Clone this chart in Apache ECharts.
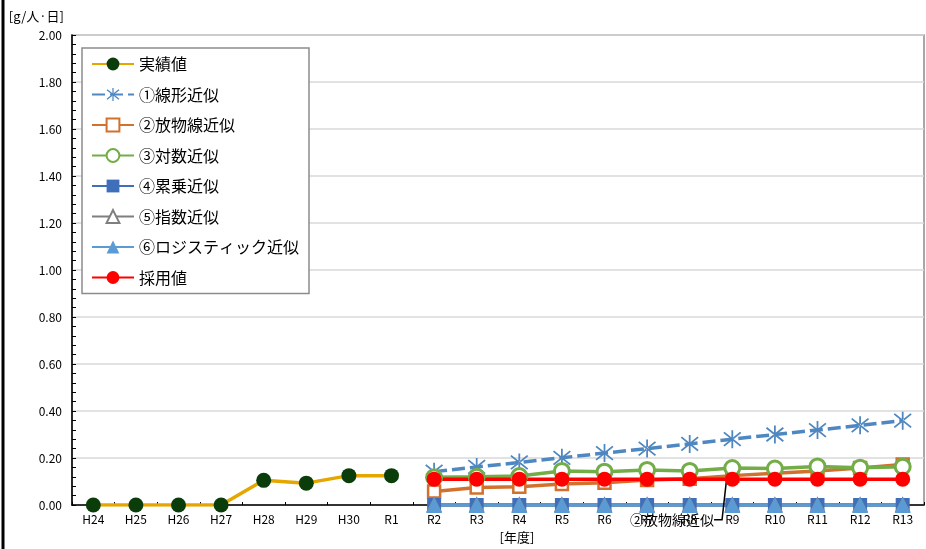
<!DOCTYPE html>
<html>
<head>
<meta charset="utf-8">
<style>
  html, body { margin: 0; padding: 0; background: #fff; }
  #main { width: 926px; height: 549px; }
</style>
<script src="https://cdn.jsdelivr.net/npm/echarts@6/dist/echarts.min.js"></script>
</head>
<body>
<div id="main"></div>
<script>
// 年度
var years = ['H24','H25','H26','H27','H28','H29','H30','R1',
             'R2','R3','R4','R5','R6','R7','R8','R9','R10','R11','R12','R13'];
var yTicks = [0, 0.2, 0.4, 0.6, 0.8, 1.0, 1.2, 1.4, 1.6, 1.8, 2.0];

// 実績値 (H24-R1)
var actual = [0, 0, 0, 0, 0.105, 0.093, 0.125, 0.125];
// 推計値 (R2-R13)
var linear    = [0.142, 0.162, 0.181, 0.201, 0.221, 0.240, 0.260, 0.280, 0.300, 0.319, 0.339, 0.359];
var parabola  = [0.057, 0.074, 0.078, 0.089, 0.095, 0.106, 0.112, 0.125, 0.135, 0.145, 0.157, 0.172];
var logFit    = [0.118, 0.120, 0.123, 0.145, 0.142, 0.149, 0.145, 0.157, 0.155, 0.164, 0.159, 0.163];
var powerFit  = [0, 0, 0, 0, 0, 0, 0, 0, 0, 0, 0, 0];
var expFit    = [0, 0, 0, 0, 0, 0, 0, 0, 0, 0, 0, 0];
var logistic  = [0, 0, 0, 0, 0, 0, 0, 0, 0, 0, 0, 0];
var adopted   = [0.11, 0.11, 0.11, 0.11, 0.11, 0.11, 0.11, 0.11, 0.11, 0.11, 0.11, 0.11];

var labelIndex = 15; // R9 に「②放物線近似」のラベル

var FONT = 'Noto Sans CJK JP';

// 実績は前半、推計は後半に並べる
function head(arr) {
    var out = arr.slice();
    while (out.length < years.length) out.push(null);
    return out;
}
function tail(arr) {
    var out = [];
    while (out.length + arr.length < years.length) out.push(null);
    return out.concat(arr);
}

// アスタリスク形のマーカー
var starPath = 'path://M9.1 0L10.9 0L10.9 20L9.1 20Z' +
    'M2.1 1.8L19.1 16.8L17.9 18.2L0.9 3.2Z' +
    'M2.1 18.2L19.1 3.2L17.9 1.8L0.9 16.8Z';

function mkSeries(name, data, color, symbol, size, fill, extra) {
    var s = {
        name: name,
        type: 'line',
        data: data,
        symbol: symbol,
        symbolSize: size,
        showAllSymbol: true,
        connectNulls: false,
        lineStyle: { color: color, width: 3.5 },
        itemStyle: { color: fill, borderColor: color, borderWidth: 2.5 },
        emphasis: { disabled: true }
    };
    if (extra) {
        for (var k in extra) s[k] = extra[k];
    }
    return s;
}

var parabolaData = tail(parabola).map(function (v, i) {
    if (i === labelIndex) {
        return {
            value: v,
            label: {
                show: true,
                position: 'left',
                formatter: '②放物線近似',
                color: '#000',
                fontSize: 14,
                fontFamily: FONT
            }
        };
    }
    return v;
});

var chart = echarts.init(document.getElementById('main'));
var option = {
    animation: false,
    textStyle: { fontFamily: FONT },
    grid: {
        left: 72, right: 2, top: 35, bottom: 44,
        show: true, borderColor: '#8c8c8c', borderWidth: 1.5
    },
    legend: {
        orient: 'vertical',
        left: 82, top: 48,
        padding: [8, 10, 8, 9],
        itemWidth: 42, itemHeight: 16, itemGap: 14.5,
        backgroundColor: '#fff',
        borderColor: '#8c8c8c', borderWidth: 1.5, borderRadius: 0,
        textStyle: { fontSize: 16, color: '#000', fontFamily: FONT },
        data: ['実績値','①線形近似','②放物線近似','③対数近似','④累乗近似','⑤指数近似','⑥ロジスティック近似','採用値']
    },
    graphic: [{
        type: 'line',
        shape: { x1: 3, y1: 0, x2: 3, y2: 549 },
        style: { stroke: '#000', lineWidth: 3 }
    }],
    xAxis: {
        type: 'category',
        data: years,
        boundaryGap: true,
        name: '[年度]',
        nameLocation: 'middle',
        nameGap: 26,
        nameTextStyle: { fontSize: 13, color: '#000', padding: [0, 0, 0, 38] },
        axisLine: { lineStyle: { color: '#000', width: 1.5 } },
        axisTick: { show: true, inside: true, length: 3, lineStyle: { color: '#000' } },
        axisLabel: { color: '#000', fontSize: 12, margin: 8, interval: 0 },
        splitLine: { show: false }
    },
    yAxis: {
        type: 'value',
        min: 0, max: 2, interval: 0.2,
        name: '[g/人·日]',
        nameLocation: 'end',
        nameGap: 12,
        nameTextStyle: { fontSize: 13, color: '#000', align: 'right', padding: [0, 8, 0, 0] },
        axisLine: { show: true, lineStyle: { color: '#000', width: 1.5 } },
        axisTick: { show: true, inside: true, length: 4, lineStyle: { color: '#000' } },
        minorTick: { show: true, splitNumber: 5, length: 4, lineStyle: { color: '#000' } },
        axisLabel: {
            color: '#000', fontSize: 12, margin: 10,
            formatter: function (v) { return v.toFixed(2); }
        },
        splitLine: { lineStyle: { color: '#d9d9d9', width: 1.5 } }
    },
    series: [
        mkSeries('実績値', head(actual), '#e6a600', 'circle', 15, '#0b3d0b', { itemStyle: { color: '#0b3d0b', borderColor: '#0b3d0b', borderWidth: 0 } }),
        mkSeries('①線形近似', tail(linear), '#4f87c0', starPath, 18, '#4f87c0', {
            lineStyle: { color: '#4f87c0', width: 3.5, type: [13, 5] },
            itemStyle: { color: '#4f87c0', borderWidth: 0 }
        }),
        mkSeries('②放物線近似', parabolaData, '#d2712d', 'rect', 12, '#fff', {
            labelLayout: { dx: -6, dy: 44 },
            labelLine: { show: true, length2: 8, lineStyle: { color: '#000', width: 1.5 } }
        }),
        mkSeries('③対数近似', tail(logFit), '#72ad47', 'circle', 15, '#fff', {
            itemStyle: { color: '#fff', borderColor: '#72ad47', borderWidth: 3 }
        }),
        mkSeries('④累乗近似', tail(powerFit), '#3f6fba', 'rect', 14, '#3f6fba', { itemStyle: { color: '#3f6fba', borderWidth: 0 } }),
        mkSeries('⑤指数近似', tail(expFit), '#7f7f7f', 'triangle', 12, '#fff'),
        mkSeries('⑥ロジスティック近似', tail(logistic), '#5b9bd5', 'triangle', 16, '#5b9bd5', { itemStyle: { color: '#5b9bd5', borderWidth: 0 } }),
        mkSeries('採用値', tail(adopted), '#ff0000', 'circle', 15, '#ff0000', { itemStyle: { color: '#ff0000', borderWidth: 0 } })
    ]
};
chart.setOption(option);
</script>
</body>
</html>
